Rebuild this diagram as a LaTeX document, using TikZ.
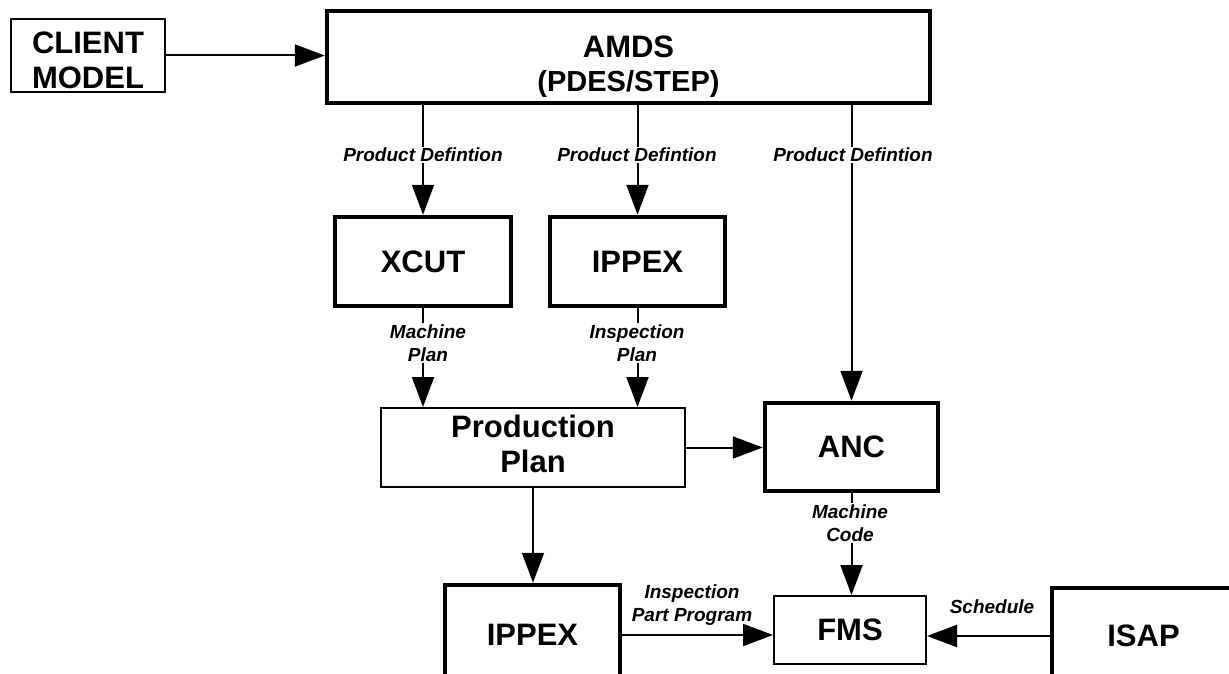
\documentclass[tikz,border=0pt]{standalone}
\usepackage{fontspec}
\setmainfont{Liberation Sans}
\usetikzlibrary{arrows.meta}
\begin{document}
\begin{tikzpicture}[x=1pt,y=-1pt,
  big/.style={align=center, inner sep=0pt, font=\fontsize{31}{35}\selectfont\bfseries},
  box/.style={draw, line width=4.5pt, big},
  thinbox/.style={box, line width=2pt},
  lbl/.style={fill=white, align=center, inner sep=1.5pt,
    font=\fontsize{19}{23}\selectfont\bfseries\itshape},
  conn/.style={line width=2pt, -{Triangle[length=30pt,width=22pt]}}]
\useasboundingbox (0,0) rectangle (1229,674);
\clip (0,0) rectangle (1229,674);

% boxes
\node[thinbox, minimum width=154, minimum height=73] (client) at (88,55.5) {};
\node[big] (clientt) at (88,60) {CLIENT\\MODEL};
\node[box, minimum width=603, minimum height=92] (amds) at (628.5,57) {};
\node[big] (amdst) at (628.5,67) {AMDS\\[-1pt]{\fontsize{29}{33}\selectfont(PDES/STEP)}};
\node[box, minimum width=176, minimum height=89] (xcut) at (423,261.5) {XCUT};
\node[box, minimum width=175, minimum height=89] (ippex) at (637.5,261.5) {IPPEX};
\node[thinbox, minimum width=304, minimum height=79] (prod) at (533,447.5) {};
\node[big] (prodt) at (533,444) {Production\\Plan};
\node[box, minimum width=173, minimum height=88] (anc) at (851.5,447) {ANC};
\node[box, minimum width=175, minimum height=100] (ippexb) at (532.5,635) {IPPEX};
\node[thinbox, minimum width=152, minimum height=68] (fms) at (850,630) {FMS};
\node[box, line width=3.5pt, minimum width=183, minimum height=96] (isap) at (1143.5,636) {ISAP};

% connectors
\draw[conn] (client.east) -- (client.east -| amds.west);
\draw[conn] (amds.south -| xcut.north) -- (xcut.north);
\draw[conn] (amds.south -| ippex.north) -- (ippex.north);
\draw[conn] (amds.south -| anc.north) -- (anc.north);
\draw[conn] (xcut.south) -- (xcut.south |- prod.north);
\draw[conn] (ippex.south) -- (ippex.south |- prod.north);
\draw[conn] (prod.east) -- (prod.east -| anc.west);
\draw[conn] (prod.south) -- (prod.south |- ippexb.north);
\draw[conn] (anc.south) -- (anc.south |- fms.north);
\draw[conn] (ippexb.east) -- (ippexb.east -| fms.west);
\draw[conn] (isap.west) -- (isap.west -| fms.east);

% connector labels
\node[lbl] (pd1) at (423,155) {Product Defintion};
\node[lbl] (pd2) at (637,155) {Product Defintion};
\node[lbl] (pd3) at (853,155) {Product Defintion};
\node[lbl] (mp) at (428,343) {Machine\\Plan};
\node[lbl] (ip) at (637,343) {Inspection\\Plan};
\node[lbl] (mc) at (850,523) {Machine\\Code};
\node[lbl, fill=none] (ipp) at (692,605) {Inspection\\Part Program};
\node[lbl, fill=none] (sch) at (992,607) {Schedule};
\end{tikzpicture}
\end{document}
